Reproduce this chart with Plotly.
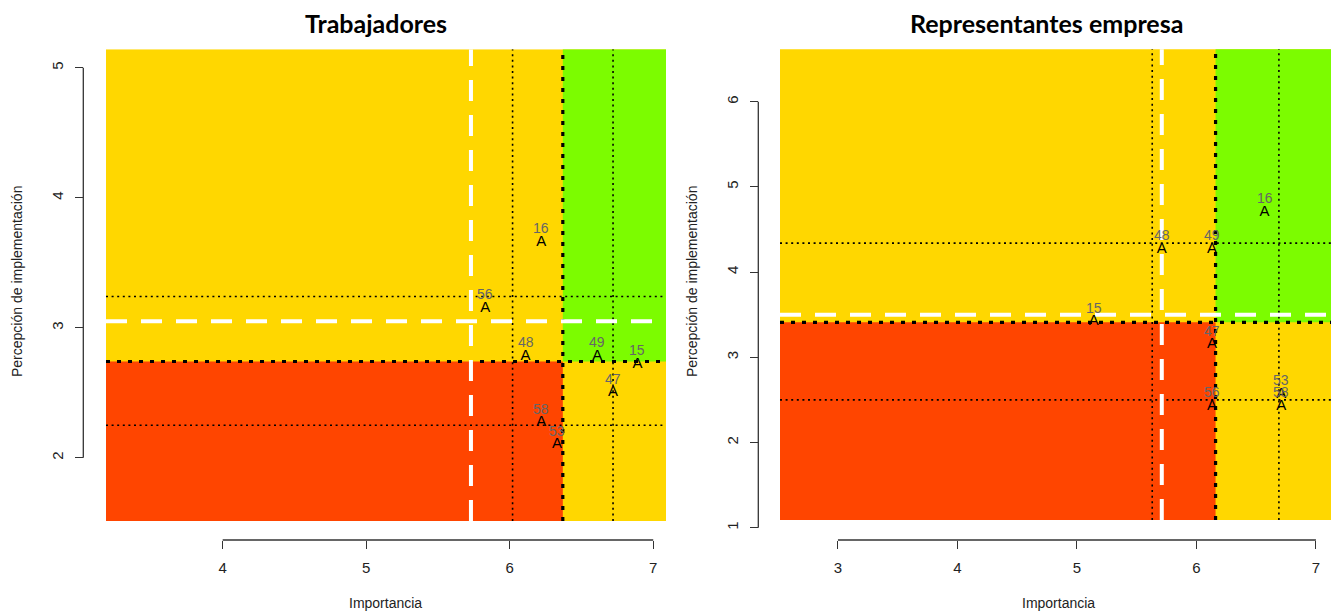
import plotly.graph_objects as go

# ---------------- data ----------------
# Trabajadores
ids_trab = ["16", "56", "48", "49", "15", "47", "58", "53"]
imp_trab = [6.22, 5.83, 6.11, 6.61, 6.89, 6.72, 6.22, 6.33]
per_trab = [3.66, 3.15, 2.78, 2.78, 2.72, 2.50, 2.27, 2.10]
mid_trab = [5.73, 3.05]          # white dashed (x, y)
cut_trab = [6.37, 2.74]          # bold dotted (x, y)
ref_x_trab = [6.02, 6.72]        # thin dotted verticals
ref_y_trab = [3.24, 2.25]        # thin dotted horizontals
reg_x_trab = [3.187, 7.089]      # coloured region extent
reg_y_trab = [1.513, 5.142]
xr_trab = [3.187, 7.089]         # axis ranges
yr_trab = [1.513, 5.142]
xt_trab = [4, 5, 6, 7]
yt_trab = [2, 3, 4, 5]

# Representantes empresa
ids_rep = ["16", "48", "49", "15", "47", "56", "53", "58"]
imp_rep = [6.57, 5.71, 6.13, 5.14, 6.13, 6.13, 6.71, 6.71]
per_rep = [4.70, 4.27, 4.27, 3.42, 3.15, 2.43, 2.57, 2.43]
mid_rep = [5.71, 3.50]
cut_rep = [6.16, 3.41]
ref_x_rep = [5.63, 6.69]
ref_y_rep = [4.34, 2.50]
reg_x_rep = [2.515, 7.126]
reg_y_rep = [1.090, 6.615]
xr_rep = [2.515, 7.126]
yr_rep = [0.95, 6.70]
xt_rep = [3, 4, 5, 6, 7]
yt_rep = [1, 2, 3, 4, 5, 6]

titles = ["Trabajadores", "Representantes empresa"]
xlab = "Importancia"
ylab = "Percepción de implementación"

YELLOW = "#FFD700"
GREEN = "#7CFC00"
RED = "#FF4500"
AXC = "#333333"
FONT = "Liberation Sans"

W, H = 1331, 612
fig = go.Figure()

# pixel calibration of the right panel y axis (1 at 527.7 px, 85.2 px per unit)
rb = 527.7 + (1 - yr_rep[0]) * 85.2
rt = 527.7 - (yr_rep[1] - 1) * 85.2

panels = [
    dict(ids=ids_trab, x=imp_trab, y=per_trab, mid=mid_trab, cut=cut_trab,
         rx=ref_x_trab, ry=ref_y_trab, gx=reg_x_trab, gy=reg_y_trab,
         xr=xr_trab, yr=yr_trab, xt=xt_trab, yt=yt_trab,
         xdom=[106 / W, 666 / W], ydom=[1 - 521 / H, 1 - 49.3 / H],
         xpos=1 - 540 / H, ypos=83.3 / W, title_x=376 / W, xlab_x=386 / W, ytitle_x=17 / W),
    dict(ids=ids_rep, x=imp_rep, y=per_rep, mid=mid_rep, cut=cut_rep,
         rx=ref_x_rep, ry=ref_y_rep, gx=reg_x_rep, gy=reg_y_rep,
         xr=xr_rep, yr=yr_rep, xt=xt_rep, yt=yt_rep,
         xdom=[780 / W, 1.0], ydom=[1 - rb / H, 1 - rt / H],
         xpos=1 - 540 / H, ypos=758.3 / W, title_x=1046 / W, xlab_x=1058 / W, ytitle_x=692 / W),
]

shapes = []
annotations = []
layout_axes = {}

for i, p in enumerate(panels, start=1):
    xa = "x" if i == 1 else f"x{i}"
    ya = "y" if i == 1 else f"y{i}"
    xkey = "xaxis" if i == 1 else f"xaxis{i}"
    ykey = "yaxis" if i == 1 else f"yaxis{i}"
    x0, x1 = p["gx"]
    y0, y1 = p["gy"]

    def vline(xv, width, dash, color):
        return dict(type="line", xref=xa, yref=ya, x0=xv, x1=xv, y0=y0, y1=y1,
                    line=dict(color=color, width=width, dash=dash), layer="below")

    def hline(yv, width, dash, color):
        return dict(type="line", xref=xa, yref=ya, x0=x0, x1=x1, y0=yv, y1=yv,
                    line=dict(color=color, width=width, dash=dash), layer="below")

    # quadrant colours
    shapes.append(dict(type="rect", xref=xa, yref=ya, x0=x0, x1=x1, y0=y0, y1=y1,
                       fillcolor=YELLOW, line_width=0, layer="below"))
    shapes.append(dict(type="rect", xref=xa, yref=ya, x0=x0, x1=p["cut"][0],
                       y0=y0, y1=p["cut"][1], fillcolor=RED, line_width=0, layer="below"))
    shapes.append(dict(type="rect", xref=xa, yref=ya, x0=p["cut"][0], x1=x1,
                       y0=p["cut"][1], y1=y1, fillcolor=GREEN, line_width=0, layer="below"))
    # thin dotted reference lines
    for xv in p["rx"]:
        shapes.append(vline(xv, 1.6, "2px,3.6px", "black"))
    for yv in p["ry"]:
        shapes.append(hline(yv, 1.6, "2px,3.6px", "black"))
    # bold dotted cut lines
    shapes.append(vline(p["cut"][0], 3.2, "4px,7px", "black"))
    shapes.append(hline(p["cut"][1], 3.2, "4px,7px", "black"))
    # white dashed mid lines
    shapes.append(vline(p["mid"][0], 4, "21px,14px", "white"))
    shapes.append(hline(p["mid"][1], 4, "21px,14px", "white"))
    # R-style axis lines (first to last tick)
    shapes.append(dict(type="line", xref=xa, yref="paper", x0=p["xt"][0], x1=p["xt"][-1],
                       y0=p["xpos"], y1=p["xpos"], line=dict(color=AXC, width=1.3)))
    shapes.append(dict(type="line", xref="paper", yref=ya, x0=p["ypos"], x1=p["ypos"],
                       y0=p["yt"][0], y1=p["yt"][-1], line=dict(color=AXC, width=1.3)))

    # points "A"
    fig.add_trace(go.Scatter(x=p["x"], y=p["y"], mode="text", text=["A"] * len(p["x"]),
                             textposition="middle center", xaxis=xa, yaxis=ya,
                             textfont=dict(family=FONT, size=15, color="black"),
                             cliponaxis=False, showlegend=False, hoverinfo="skip"))
    for lab, xv, yv in zip(p["ids"], p["x"], p["y"]):
        annotations.append(dict(x=xv, y=yv, xref=xa, yref=ya, text=lab, showarrow=False,
                                yshift=14, font=dict(family=FONT, size=14, color="#666666")))

    # titles
    annotations.append(dict(x=p["title_x"], y=1 - 23 / H, xref="paper", yref="paper",
                            xanchor="center", yanchor="middle",
                            text=f"<b>{titles[i-1]}</b>", showarrow=False,
                            font=dict(family="Lato", size=25, color="black")))
    annotations.append(dict(x=p["xlab_x"], y=1 - 603 / H, xref="paper", yref="paper",
                            xanchor="center", yanchor="middle",
                            text=xlab, showarrow=False,
                            font=dict(family=FONT, size=14, color="#222222")))
    annotations.append(dict(x=p["ytitle_x"], y=1 - 282 / H, xref="paper", yref="paper",
                            xanchor="center", yanchor="middle",
                            text=ylab, showarrow=False, textangle=-90,
                            font=dict(family=FONT, size=14, color="#222222")))

    layout_axes[xkey] = dict(domain=p["xdom"], range=p["xr"], anchor="free", position=p["xpos"],
                             showgrid=False, zeroline=False, showline=False,
                             tickmode="array", tickvals=p["xt"], ticks="outside", ticklen=8,
                             tickwidth=1.3, tickcolor=AXC, ticklabelstandoff=6,
                             tickfont=dict(family=FONT, size=15, color="#222222"),
                             fixedrange=True)
    layout_axes[ykey] = dict(domain=p["ydom"], range=p["yr"], anchor="free", position=p["ypos"],
                             showgrid=False, zeroline=False, showline=False,
                             tickmode="array", tickvals=p["yt"], ticks="outside", ticklen=8,
                             tickwidth=1.3, tickcolor=AXC, tickangle=-90, ticklabelstandoff=6,
                             tickfont=dict(family=FONT, size=15, color="#222222"),
                             fixedrange=True)

fig.update_layout(
    width=W, height=H,
    margin=dict(l=0, r=0, t=0, b=0),
    paper_bgcolor="white", plot_bgcolor="white",
    shapes=shapes, annotations=annotations,
    showlegend=False,
    **layout_axes,
)

fig.write_html("out.html", config={"displayModeBar": False},
               post_script="document.body.style.margin='0';")
